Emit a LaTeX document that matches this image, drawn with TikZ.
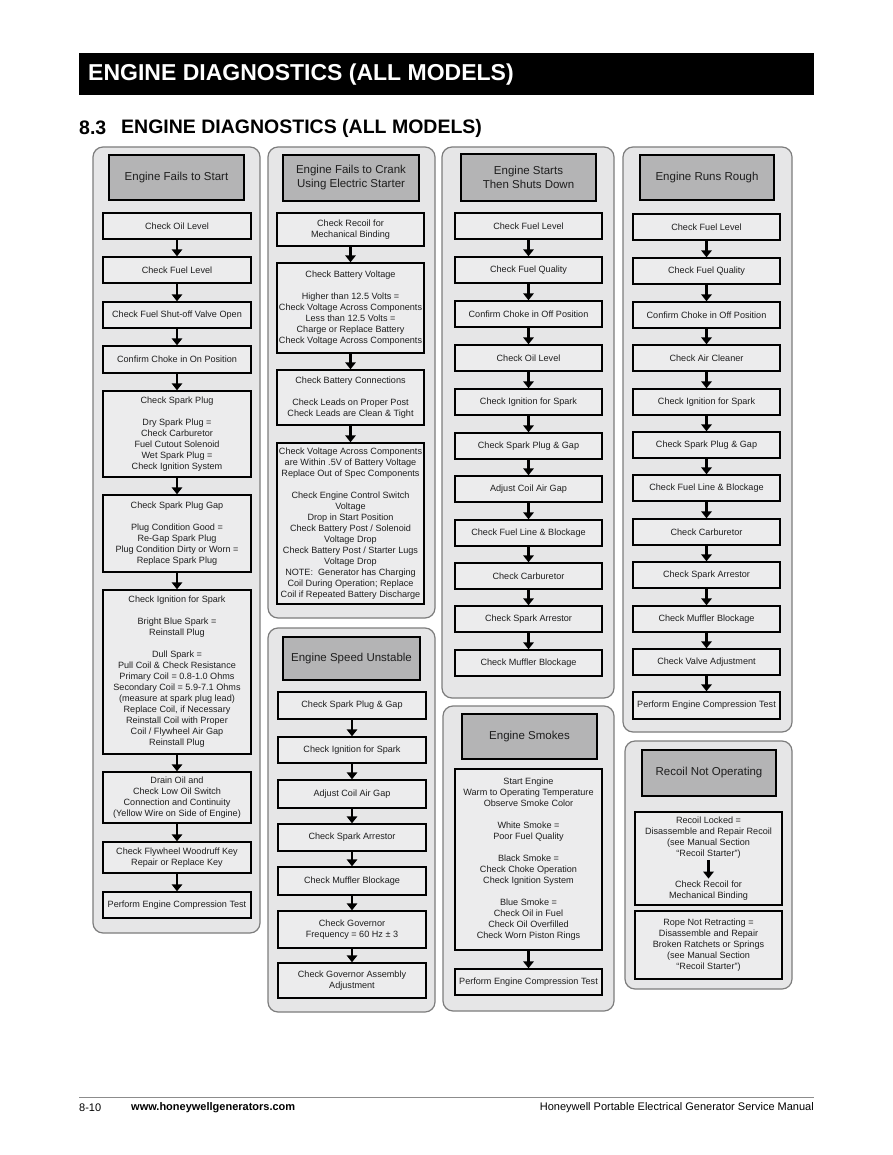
\documentclass[tikz,border=0pt]{standalone}
\usepackage{fontspec}
\setmainfont{Liberation Sans}
\usetikzlibrary{arrows.meta}
\definecolor{panelgray}{RGB}{230,230,231}
\definecolor{panelline}{RGB}{125,125,125}
\definecolor{boxgray}{RGB}{236,236,237}
\definecolor{hdrgray}{RGB}{180,180,181}
\definecolor{footline}{RGB}{140,140,140}
\definecolor{ink}{RGB}{30,30,30}
\newcommand\boxf{\fontsize{9.1}{11}\selectfont}
\newcommand\hdrf{\fontsize{11.5}{14}\selectfont}
\tikzset{
  panel/.style={draw=panelline, fill=panelgray, line width=1.2pt, rounded corners=10pt},
  hdr/.style={draw=black, line width=1.8pt, fill=hdrgray, font=\hdrf, text=ink, align=center, inner sep=0pt},
  stepbox/.style={draw=black, line width=1.4pt, fill=boxgray, font=\boxf, text=ink, align=center, inner sep=0pt},
  txt/.style={font=\boxf, text=ink, align=center, inner sep=0pt},
  flow/.style={-{Triangle[width=10.5pt,length=7pt]}, line width=2.6pt, black},
}
\newcommand\bx[6]{\node[stepbox, minimum width={(#4-#2)*1pt}, minimum height={(#5-#3)*1pt}] (#1) at ({(#2+#4)/2},{(#3+#5)/2}) {#6};}
\newcommand\hx[6]{\node[hdr, minimum width={(#4-#2)*1pt}, minimum height={(#5-#3)*1pt}] (#1) at ({(#2+#4)/2},{(#3+#5)/2}) {#6};}
\begin{document}
\begin{tikzpicture}[x=1pt,y=-1pt]
\useasboundingbox[fill=white] (0,0) rectangle (892,1155);
% title band
\fill[black] (79,53) rectangle (814,95);
\node[anchor=west, text=white, font=\bfseries\fontsize{23}{26}\selectfont, inner sep=0pt] (title) at (88,75) {ENGINE DIAGNOSTICS (ALL MODELS)};
\node[anchor=west, font=\bfseries\fontsize{19.5}{22}\selectfont, inner sep=0pt] (secnum) at (79,128) {8.3};
\node[anchor=west, font=\bfseries\fontsize{19.5}{22}\selectfont, inner sep=0pt] (sectitle) at (121,128) {ENGINE DIAGNOSTICS (ALL MODELS)};
% panels
\draw[panel] (93,147) rectangle (260,933);
\draw[panel] (268,147) rectangle (435,618);
\draw[panel] (268,628) rectangle (435,1012);
\draw[panel] (442,147) rectangle (614,698);
\draw[panel] (443,706) rectangle (614,1011);
\draw[panel] (623,147) rectangle (792,732);
\draw[panel] (625,741) rectangle (792,989);
% column 1
\hx{h1}{109}{155}{244}{200}{Engine Fails to Start}
\bx{a1}{103}{213}{251}{239}{Check Oil Level}
\bx{a2}{103}{257}{251}{283}{Check Fuel Level}
\bx{a3}{103}{302}{251}{328}{Check Fuel Shut-off Valve Open}
\bx{a4}{103}{346}{251}{373}{Confirm Choke in On Position}
\bx{a5}{103}{391}{251}{477}{Check Spark Plug\\[11pt]Dry Spark Plug =\\Check Carburetor\\Fuel Cutout Solenoid\\Wet Spark Plug =\\Check Ignition System}
\bx{a6}{103}{495}{251}{572}{Check Spark Plug Gap\\[11pt]Plug Condition Good =\\Re-Gap Spark Plug\\Plug Condition Dirty or Worn =\\Replace Spark Plug}
\bx{a7}{103}{590}{251}{754}{Check Ignition for Spark\\[11pt]Bright Blue Spark =\\Reinstall Plug\\[11pt]Dull Spark =\\Pull Coil \& Check Resistance\\Primary Coil = 0.8-1.0 Ohms\\Secondary Coil = 5.9-7.1 Ohms\\(measure at spark plug lead)\\Replace Coil, if Necessary\\Reinstall Coil with Proper\\Coil / Flywheel Air Gap\\Reinstall Plug}
\bx{a8}{103}{772}{251}{823}{Drain Oil and\\Check Low Oil Switch\\Connection and Continuity\\(Yellow Wire on Side of Engine)}
\bx{a9}{103}{842}{251}{873}{Check Flywheel Woodruff Key\\Repair or Replace Key}
\bx{a10}{103}{892}{251}{918}{Perform Engine Compression Test}
\foreach \i [count=\j from 2] in {1,...,9} {\draw[flow] (a\i.south) -- (a\j.north);}
% column 2 top
\hx{h2}{283}{155}{419}{201}{Engine Fails to Crank\\Using Electric Starter}
\bx{b1}{277}{213}{424}{246}{Check Recoil for\\Mechanical Binding}
\bx{b2}{277}{263}{424}{353}{Check Battery Voltage\\[11pt]Higher than 12.5 Volts =\\Check Voltage Across Components\\Less than 12.5 Volts =\\Charge or Replace Battery\\Check Voltage Across Components}
\bx{b3}{277}{370}{424}{425}{Check Battery Connections\\[11pt]Check Leads on Proper Post\\Check Leads are Clean \& Tight}
\bx{b4}{277}{443}{424}{604}{Check Voltage Across Components\\are Within .5V of Battery Voltage\\Replace Out of Spec Components\\[11pt]Check Engine Control Switch\\Voltage\\Drop in Start Position\\Check Battery Post / Solenoid\\Voltage Drop\\Check Battery Post / Starter Lugs\\Voltage Drop\\NOTE:\ \ Generator has Charging\\Coil During Operation; Replace\\Coil if Repeated Battery Discharge}
\foreach \i [count=\j from 2] in {1,...,3} {\draw[flow] (b\i.south) -- (b\j.north);}
% column 2 bottom
\hx{h3}{283}{637}{420}{680}{Engine Speed Unstable}
\bx{c1}{278}{692}{426}{719}{Check Spark Plug \& Gap}
\bx{c2}{278}{737}{426}{763}{Check Ignition for Spark}
\bx{c3}{278}{780}{426}{808}{Adjust Coil Air Gap}
\bx{c4}{278}{824}{426}{851}{Check Spark Arrestor}
\bx{c5}{278}{867}{426}{895}{Check Muffler Blockage}
\bx{c6}{278}{911}{426}{948}{Check Governor\\Frequency = 60 Hz ± 3}
\bx{c7}{278}{963}{426}{998}{Check Governor Assembly\\Adjustment}
\foreach \i [count=\j from 2] in {1,...,6} {\draw[flow] (c\i.south) -- (c\j.north);}
% column 3 top
\hx{h4}{461}{154}{596}{201}{Engine Starts\\Then Shuts Down}
\bx{d1}{455}{213}{602}{239}{Check Fuel Level}
\bx{d2}{455}{257}{602}{283}{Check Fuel Quality}
\bx{d3}{455}{301}{602}{327}{Confirm Choke in Off Position}
\bx{d4}{455}{345}{602}{371}{Check Oil Level}
\bx{d5}{455}{389}{602}{415}{Check Ignition for Spark}
\bx{d6}{455}{433}{602}{459}{Check Spark Plug \& Gap}
\bx{d7}{455}{476}{602}{502}{Adjust Coil Air Gap}
\bx{d8}{455}{520}{602}{546}{Check Fuel Line \& Blockage}
\bx{d9}{455}{563}{602}{589}{Check Carburetor}
\bx{d10}{455}{606}{602}{632}{Check Spark Arrestor}
\bx{d11}{455}{650}{602}{676}{Check Muffler Blockage}
\foreach \i [count=\j from 2] in {1,...,10} {\draw[flow] (d\i.south) -- (d\j.north);}
% column 3 bottom
\hx{h5}{462}{714}{597}{759}{Engine Smokes}
\bx{e1}{455}{769}{602}{950}{Start Engine\\Warm to Operating Temperature\\Observe Smoke Color\\[11pt]White Smoke =\\Poor Fuel Quality\\[11pt]Black Smoke =\\Check Choke Operation\\Check Ignition System\\[11pt]Blue Smoke =\\Check Oil in Fuel\\Check Oil Overfilled\\Check Worn Piston Rings}
\bx{e2}{455}{969}{602}{995}{Perform Engine Compression Test}
\draw[flow] (e1.south) -- (e2.north);
% column 4 top
\hx{h6}{640}{155}{774}{200}{Engine Runs Rough}
\bx{f1}{633}{214}{780}{240}{Check Fuel Level}
\bx{f2}{633}{258}{780}{284}{Check Fuel Quality}
\bx{f3}{633}{302}{780}{328}{Confirm Choke in Off Position}
\bx{f4}{633}{345}{780}{371}{Check Air Cleaner}
\bx{f5}{633}{389}{780}{415}{Check Ignition for Spark}
\bx{f6}{633}{432}{780}{458}{Check Spark Plug \& Gap}
\bx{f7}{633}{475}{780}{501}{Check Fuel Line \& Blockage}
\bx{f8}{633}{519}{780}{545}{Check Carburetor}
\bx{f9}{633}{562}{780}{588}{Check Spark Arrestor}
\bx{f10}{633}{606}{780}{632}{Check Muffler Blockage}
\bx{f11}{633}{649}{780}{675}{Check Valve Adjustment}
\bx{f12}{633}{692}{780}{719}{Perform Engine Compression Test}
\foreach \i [count=\j from 2] in {1,...,11} {\draw[flow] (f\i.south) -- (f\j.north);}
% column 4 bottom
\hx{h7}{642}{750}{776}{796}{Recoil Not Operating}
\bx{g1}{635}{812}{782}{905}{}
\node[txt] (g1a) at (708.5,838) {Recoil Locked =\\Disassemble and Repair Recoil\\(see Manual Section\\“Recoil Starter”)};
\node[txt] (g1b) at (708.5,890.5) {Check Recoil for\\Mechanical Binding};
\draw[flow, shorten <=1pt, shorten >=2pt] (g1a.south) -- (g1b.north);
\bx{g2}{635}{911}{782}{979}{Rope Not Retracting =\\Disassemble and Repair\\Broken Ratchets or Springs\\(see Manual Section\\“Recoil Starter”)}
% footer
\draw[footline, line width=0.8pt] (79,1097) -- (814,1097);
\node[anchor=west, font=\fontsize{11}{13}\selectfont, inner sep=0pt] (pg) at (79,1107.5) {8-10};
\node[anchor=west, font=\bfseries\fontsize{11}{13}\selectfont, inner sep=0pt] (url) at (131,1107.5) {www.honeywellgenerators.com};
\node[anchor=east, font=\fontsize{11}{13}\selectfont, inner sep=0pt] (manual) at (814,1107.5) {Honeywell Portable Electrical Generator Service Manual};
\end{tikzpicture}
\end{document}
